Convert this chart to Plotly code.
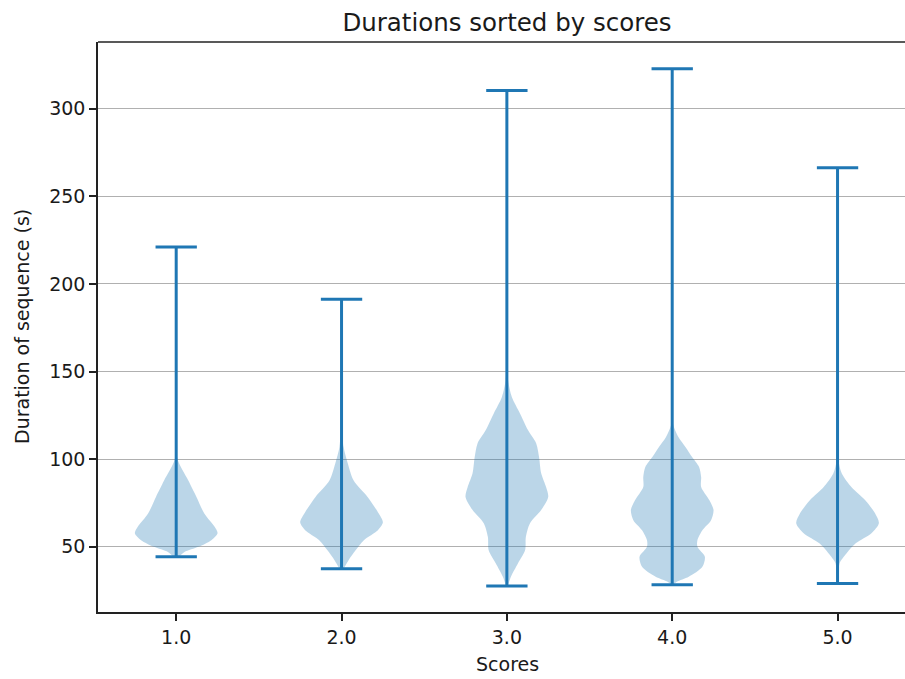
import plotly.graph_objects as go

# ---- data ----
scores = [1, 2, 3, 4, 5]
score_labels = ["1.0", "2.0", "3.0", "4.0", "5.0"]
y_tick_values = [50, 100, 150, 200, 250, 300]

mins = [44.3, 37.5, 27.6, 28.3, 29.1]
maxs = [221.1, 191.3, 310.4, 322.8, 266.4]

# density profiles: duration level and relative half-width (1 = widest)
levels_1 = [44.3, 47, 50, 53.8, 57.8, 61.4, 69, 78.5, 88, 99.4, 108]
widths_1 = [0.07, 0.2, 0.54, 0.85, 1.0, 0.93, 0.68, 0.49, 0.29, 0.04, 0.0]

levels_2 = [37.5, 42.4, 48, 53.8, 59.5, 64, 69, 78.5, 88, 97.7, 107, 122]
widths_2 = [0.05, 0.17, 0.34, 0.54, 0.88, 1.0, 0.9, 0.63, 0.29, 0.15, 0.05, 0.0]

levels_3 = [27.6, 33, 40.6, 48, 55.7, 63.5, 71, 78.5, 84, 92, 101, 109, 116.6, 126, 135.5, 145, 158]
widths_3 = [0.02, 0.1, 0.27, 0.44, 0.46, 0.56, 0.83, 1.0, 0.95, 0.83, 0.78, 0.71, 0.51, 0.32, 0.12, 0.03, 0.0]

levels_4 = [28.3, 30, 32.9, 38.6, 44.3, 50, 53.8, 59.5, 65.2, 71, 76.6, 84.2, 89.9, 95.6, 101.3, 107, 112.7, 120.1, 130]
widths_4 = [0.02, 0.11, 0.4, 0.73, 0.79, 0.61, 0.61, 0.73, 0.94, 1.0, 0.9, 0.7, 0.7, 0.65, 0.48, 0.32, 0.15, 0.02, 0.0]

levels_5 = [29.1, 35, 40.7, 46.4, 52, 57.8, 63.5, 69, 76.6, 84, 92, 99.5, 108]
widths_5 = [0.01, 0.03, 0.05, 0.22, 0.44, 0.82, 1.0, 0.91, 0.67, 0.34, 0.1, 0.02, 0.0]

levels = [levels_1, levels_2, levels_3, levels_4, levels_5]
widths = [widths_1, widths_2, widths_3, widths_4, widths_5]

# ---- styling ----
BLUE = "#1f77b4"
FILL = "rgba(31,119,180,0.3)"
HALF = 0.25  # max half-width of a violin (matplotlib widths=0.5)
CAP = 0.125
FONT = "DejaVu Sans"
TXT = "#1a1a1a"

fig = go.Figure()

for pos, lv, wd in zip(scores, levels, widths):
    xs = [pos + HALF * w for w in wd] + [pos - HALF * w for w in reversed(wd)]
    ys = list(lv) + list(reversed(lv))
    fig.add_trace(go.Scatter(
        x=xs, y=ys, mode="lines", fill="toself", fillcolor=FILL,
        line=dict(width=0, color=FILL, shape="spline", smoothing=0.8),
        hoverinfo="skip", showlegend=False))

# vertical extent lines
vx, vy = [], []
for pos, lo, hi in zip(scores, mins, maxs):
    vx += [pos, pos, None]
    vy += [lo, hi, None]
fig.add_trace(go.Scatter(x=vx, y=vy, mode="lines",
                         line=dict(color=BLUE, width=3), showlegend=False))

# caps at min and max
cx, cy = [], []
for pos, lo, hi in zip(scores, mins, maxs):
    for v in (lo, hi):
        cx += [pos - CAP, pos + CAP, None]
        cy += [v, v, None]
fig.add_trace(go.Scatter(x=cx, y=cy, mode="lines",
                         line=dict(color=BLUE, width=3), showlegend=False))

fig.update_layout(
    width=905, height=679,
    margin=dict(l=98, r=0, t=42, b=67),
    paper_bgcolor="white", plot_bgcolor="white",
    font=dict(family=FONT, color=TXT, size=19),
    showlegend=False,
    title=dict(text="Durations sorted by scores", x=507 / 905, xanchor="center",
               xref="container",
               y=1 - 22 / 679, yanchor="middle", yref="container",
               font=dict(family=FONT, size=24.5, color=TXT)),
    xaxis=dict(range=[0.527, 5.408], tickmode="array", tickvals=scores, ticktext=score_labels,
               showgrid=False, zeroline=False, showline=True, linecolor="#222", linewidth=1.5,
               ticks="outside", ticklen=7, tickwidth=1.5, tickcolor="#222",
               tickfont=dict(family=FONT, size=19, color=TXT)),
    yaxis=dict(range=[12.8, 338.1], tickmode="array", tickvals=y_tick_values,
               showgrid=True, gridcolor="#b0b0b0", gridwidth=1.4, zeroline=False,
               showline=True, linecolor="#222", linewidth=1.5,
               ticks="outside", ticklen=7, tickwidth=1.5, tickcolor="#222",
               tickfont=dict(family=FONT, size=19, color=TXT)),
    shapes=[dict(type="line", xref="paper", yref="paper", x0=0, x1=1, y0=1, y1=1,
                 line=dict(color="#222", width=1.5))],
    annotations=[
        dict(text="Scores", xref="paper", yref="paper",
             x=(507 - 98) / (905 - 98), y=-(664 - 612) / (612 - 42),
             xanchor="center", yanchor="middle", showarrow=False,
             font=dict(family=FONT, size=19, color=TXT)),
        dict(text="Duration of sequence (s)", xref="paper", yref="paper",
             x=-(98 - 22) / (905 - 98), y=0.5, textangle=-90,
             xanchor="center", yanchor="middle", showarrow=False,
             font=dict(family=FONT, size=19, color=TXT)),
    ],
)

fig.write_html("out.html",
               config={"displayModeBar": False},
               post_script="document.body.style.margin='0';document.body.style.overflow='hidden';")
